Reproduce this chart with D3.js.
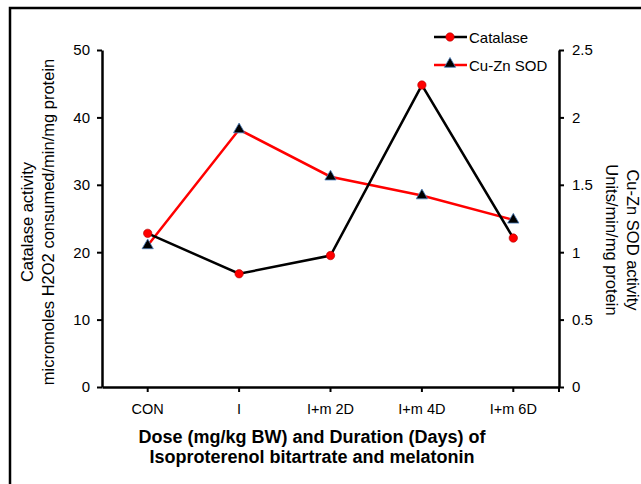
<!DOCTYPE html>
<html>
<head>
<meta charset="utf-8">
<script src="https://cdn.jsdelivr.net/npm/d3@7"></script>
<style>
body { margin: 0; background: #fff; }
text { font-family: "Liberation Sans", Arial, sans-serif; }
</style>
</head>
<body>
<div id="chart"></div>
<script>
var width = 641;
var height = 484;

var categories = ["CON", "I", "I+m 2D", "I+m 4D", "I+m 6D"];
var catalase = [22.8, 16.8, 19.5, 44.8, 22.1];
var sod = [1.05, 1.91, 1.56, 1.42, 1.24];
var leftTicks = [0, 10, 20, 30, 40, 50];
var rightTicks = [0, 0.5, 1, 1.5, 2, 2.5];

var plotLeft = 102, plotRight = 559, plotTop = 50, plotBottom = 387;

var svg = d3.select("#chart").append("svg")
    .attr("width", width)
    .attr("height", height);

// outer frame (clipped at right/bottom like the picture)
svg.append("rect")
    .attr("x", 10).attr("y", 8)
    .attr("width", 700).attr("height", 600)
    .attr("fill", "none")
    .attr("stroke", "#000")
    .attr("stroke-width", 2.5);

var x = d3.scaleBand().domain(categories).range([plotLeft, plotRight]);
var yL = d3.scaleLinear().domain([0, 50]).range([plotBottom, plotTop]);
var yR = d3.scaleLinear().domain([0, 2.5]).range([plotBottom, plotTop]);

function cx(d) { return x(d) + x.bandwidth() / 2; }

// axes
var leftAxis = svg.append("g")
    .attr("transform", "translate(" + plotLeft + ",0)")
    .call(d3.axisLeft(yL).tickValues(leftTicks).tickSize(5).tickSizeOuter(0).tickPadding(7));
var rightAxis = svg.append("g")
    .attr("transform", "translate(" + plotRight + ",0)")
    .call(d3.axisRight(yR).tickValues(rightTicks).tickFormat(d3.format("")).tickSize(5).tickSizeOuter(0).tickPadding(8));
var bottomAxis = svg.append("g")
    .attr("transform", "translate(0," + plotBottom + ")")
    .call(d3.axisBottom(x).tickSize(5).tickSizeOuter(0).tickPadding(12));
bottomAxis.append("line")
    .attr("x1", plotRight).attr("x2", plotRight)
    .attr("y1", 0).attr("y2", 5)
    .attr("stroke", "#000").attr("stroke-width", 2);

[leftAxis, rightAxis, bottomAxis].forEach(function (g) {
    g.select(".domain").attr("stroke-width", 2.5);
    g.selectAll(".tick line").attr("stroke-width", 2);
    g.selectAll("text").attr("font-size", 15).attr("fill", "#000")
        .style("font-family", "'Liberation Sans', Arial, sans-serif");
});
bottomAxis.selectAll("text").attr("font-size", 14.5);

// lines
var lineL = d3.line().x(function (d, i) { return cx(categories[i]); }).y(function (d) { return yL(d); });
var lineR = d3.line().x(function (d, i) { return cx(categories[i]); }).y(function (d) { return yR(d); });

svg.append("path").datum(sod)
    .attr("d", lineR).attr("fill", "none")
    .attr("stroke", "#ff0000").attr("stroke-width", 2.5);
svg.append("path").datum(catalase)
    .attr("d", lineL).attr("fill", "none")
    .attr("stroke", "#000").attr("stroke-width", 2.5);

var tri = d3.symbol().type(d3.symbolTriangle).size(55);

svg.selectAll(".sodpt").data(sod).enter().append("path")
    .attr("class", "sodpt")
    .attr("d", tri)
    .attr("transform", function (d, i) { return "translate(" + cx(categories[i]) + "," + yR(d) + ")"; })
    .attr("fill", "#000").attr("stroke", "#4a7ebb").attr("stroke-width", 0.8);

svg.selectAll(".catpt").data(catalase).enter().append("circle")
    .attr("class", "catpt")
    .attr("cx", function (d, i) { return cx(categories[i]); })
    .attr("cy", function (d) { return yL(d); })
    .attr("r", 4.2)
    .attr("fill", "#ff0000").attr("stroke", "#b00000").attr("stroke-width", 0.6);

// legend
var lg = svg.append("g");
lg.append("line").attr("x1", 434).attr("x2", 467).attr("y1", 37).attr("y2", 37)
    .attr("stroke", "#000").attr("stroke-width", 2.5);
lg.append("circle").attr("cx", 450).attr("cy", 37).attr("r", 4.2)
    .attr("fill", "#ff0000").attr("stroke", "#b00000").attr("stroke-width", 0.6);
lg.append("text").attr("x", 469).attr("y", 42.5).attr("font-size", 15).text("Catalase");
lg.append("line").attr("x1", 434).attr("x2", 467).attr("y1", 65).attr("y2", 65)
    .attr("stroke", "#ff0000").attr("stroke-width", 2.5);
lg.append("path").attr("d", tri).attr("transform", "translate(450,64)")
    .attr("fill", "#000").attr("stroke", "#4a7ebb").attr("stroke-width", 0.8);
lg.append("text").attr("x", 469).attr("y", 70.5).attr("font-size", 15).text("Cu-Zn SOD");

// axis titles
var lt = svg.append("text")
    .attr("transform", "translate(33,222) rotate(-90)")
    .attr("text-anchor", "middle").attr("font-size", 16.5);
lt.append("tspan").attr("x", 0).attr("dy", 0).text("Catalase activity");
lt.append("tspan").attr("x", 0).attr("dy", 21).text("micromoles H2O2 consumed/min/mg protein");

var rt = svg.append("text")
    .attr("transform", "translate(627,240) rotate(90)")
    .attr("text-anchor", "middle").attr("font-size", 16.5);
rt.append("tspan").attr("x", 0).attr("dy", 0).text("Cu-Zn SOD activity");
rt.append("tspan").attr("x", 0).attr("dy", 21).text("Units/min/mg protein");

var bt = svg.append("text")
    .attr("x", 312).attr("y", 443)
    .attr("text-anchor", "middle").attr("font-size", 18).attr("font-weight", "bold");
bt.append("tspan").attr("x", 312).attr("dy", 0).text("Dose (mg/kg BW) and Duration (Days) of");
bt.append("tspan").attr("x", 312).attr("dy", 19.5).text("Isoproterenol bitartrate and melatonin");
</script>
</body>
</html>
